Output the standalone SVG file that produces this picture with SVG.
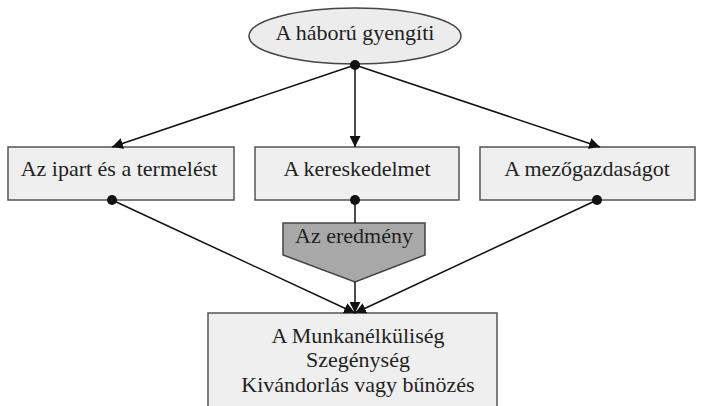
<svg xmlns="http://www.w3.org/2000/svg" width="701" height="406" viewBox="0 0 701 406">
<style>
.box{fill:#efefef;stroke:#555;stroke-width:1.5}
.t{font-family:"Liberation Serif",serif;font-size:22px;fill:#222;text-anchor:middle}
.c{stroke:#111;stroke-width:1.5;fill:none}
</style>
<defs>
<marker id="ah" viewBox="0 0 10 10" refX="10" refY="5" markerWidth="11" markerHeight="11" markerUnits="userSpaceOnUse" orient="auto"><path d="M0,0 L10,5 L0,10 z" fill="#111"/></marker>
</defs>
<rect width="701" height="406" fill="#fff"/>
<g id="n-haboru">
<ellipse cx="355" cy="36" rx="106" ry="28" fill="#ececec" stroke="#444" stroke-width="1.5"/>
<text class="t" x="355" y="40">A háború gyengíti</text>
</g>
<g id="n-ipar">
<rect class="box" x="8" y="147" width="226" height="53"/>
<text class="t" x="119" y="176">Az ipart és a termelést</text>
</g>
<g id="n-keresk">
<rect class="box" x="255" y="147" width="204" height="53"/>
<text class="t" x="357" y="176">A kereskedelmet</text>
</g>
<g id="n-mezo">
<rect class="box" x="480" y="147" width="215" height="53"/>
<text class="t" x="587" y="176">A mezőgazdaságot</text>
</g>
<g id="n-eredmeny">
<path d="M283,223 L425,223 L425,255 L355,282 L283,255 Z" fill="#a8a8a8" stroke="#444" stroke-width="1.5"/>
<text class="t" x="354" y="243">Az eredmény</text>
</g>
<g id="n-munka">
<rect class="box" x="208" y="313" width="289" height="100"/>
<text class="t" x="358" y="343">A Munkanélküliség</text>
<text class="t" x="358" y="367">Szegénység</text>
<text class="t" x="358" y="392">Kivándorlás vagy bűnözés</text>
</g>
<g id="connectors">
<line class="c" x1="355" y1="65" x2="112" y2="147" marker-end="url(#ah)"/>
<line class="c" x1="355" y1="65" x2="355" y2="147" marker-end="url(#ah)"/>
<line class="c" x1="355" y1="65" x2="600" y2="147" marker-end="url(#ah)"/>
<line class="c" x1="112" y1="200" x2="355" y2="313" marker-end="url(#ah)"/>
<line class="c" x1="597" y1="200" x2="355" y2="313" marker-end="url(#ah)"/>
<line class="c" x1="355" y1="200" x2="355" y2="223"/>
<line class="c" x1="355" y1="282" x2="355" y2="313" marker-end="url(#ah)"/>
<circle cx="355" cy="65" r="5" fill="#111"/>
<circle cx="112" cy="200" r="5" fill="#111"/>
<circle cx="355" cy="200" r="5" fill="#111"/>
<circle cx="597" cy="200" r="5" fill="#111"/>
</g>
</svg>
